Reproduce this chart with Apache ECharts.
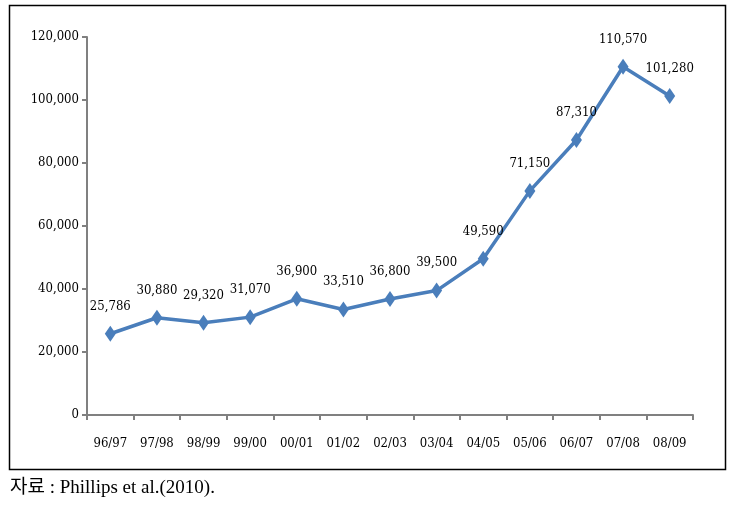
<!DOCTYPE html>
<html><head><meta charset="utf-8">
<script src="https://cdn.jsdelivr.net/npm/echarts@6/dist/echarts.min.js"></script>
<style>html,body{margin:0;padding:0;background:#fff}#c{width:729px;height:508px}</style>
</head><body><div id="c"></div>
<script>
const categories = ['96/97','97/98','98/99','99/00','00/01','01/02','02/03','03/04','04/05','05/06','06/07','07/08','08/09'];
const values = [25786,30880,29320,31070,36900,33510,36800,39500,49590,71150,87310,110570,101280];
const yTicks = [0,20000,40000,60000,80000,100000,120000];
const caption = '자료 : Phillips et al.(2010).';

const chart = echarts.init(document.getElementById('c'));
const fnt = '"DejaVu Serif Condensed", "Liberation Serif", serif';
chart.setOption({
  animation: false,
  grid: {left: 87, right: 36, top: 37, bottom: 93},
  xAxis: {
    type: 'category', data: categories, boundaryGap: true,
    axisLine: {lineStyle: {color: '#808080', width: 2}},
    axisTick: {show: true, length: 5, lineStyle: {color: '#808080', width: 2}},
    axisLabel: {color: '#000', fontFamily: fnt, fontSize: 13, margin: 22, interval: 0}
  },
  yAxis: {
    type: 'value', min: 0, max: 120000, interval: 20000,
    axisLine: {show: true, lineStyle: {color: '#808080', width: 2}},
    axisTick: {show: true, length: 5, lineStyle: {color: '#808080', width: 2}},
    splitLine: {show: false},
    axisLabel: {color: '#000', fontFamily: fnt, fontSize: 13, margin: 8,
      formatter: v => v.toLocaleString('en-US')}
  },
  series: [{
    type: 'line', data: values,
    symbol: 'diamond', symbolSize: [11, 16],
    lineStyle: {color: '#4A7EBB', width: 3.5},
    itemStyle: {color: '#4A7EBB'},
    label: {show: true, position: 'top', distance: 13, color: '#000', fontFamily: fnt, fontSize: 13,
      formatter: p => p.value.toLocaleString('en-US')}
  }],
  graphic: [
    {type: 'rect', shape: {x: 9.5, y: 5.5, width: 716, height: 464}, style: {fill: 'none', stroke: '#000', lineWidth: 1.5}, z: -1},
    {type: 'text', left: 10, top: 479, style: {text: caption, fill: '#000', font: '19px "Liberation Serif", "Noto Sans CJK KR", serif'}}
  ]
});
</script></body></html>
